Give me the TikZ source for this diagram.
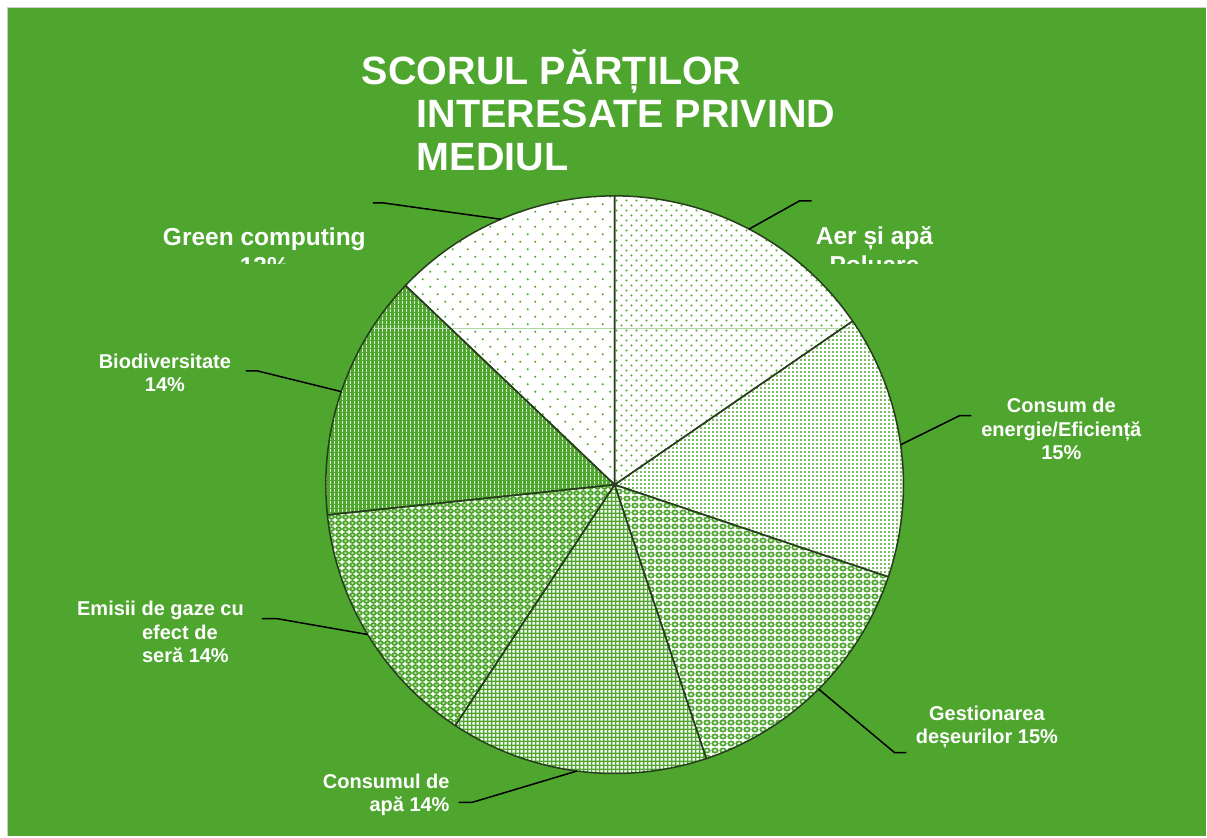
\documentclass[tikz,border=0pt]{standalone}
\usepackage{fontspec}
\setmainfont{Liberation Sans}
\usetikzlibrary{calc, patterns.meta}

\definecolor{leaf}{RGB}{78,166,46}
\definecolor{rim}{RGB}{38,62,28}
\definecolor{frame}{RGB}{205,205,205}

% fill patterns of the slices
\tikzdeclarepattern{name=airdots, type=uncolored,
  bounding box={(0pt,0pt) and (10pt,10pt)}, tile size={(10pt,10pt)},
  code={\fill (2.5pt,2.5pt) circle (1.2pt); \fill (7.5pt,7.5pt) circle (1.2pt);}}
\tikzdeclarepattern{name=greendots, type=uncolored,
  bounding box={(0pt,0pt) and (15pt,15pt)}, tile size={(15pt,15pt)},
  code={\fill (3.75pt,3.75pt) circle (1.2pt); \fill (11.25pt,11.25pt) circle (1.2pt);}}
\tikzdeclarepattern{name=energydots, type=uncolored,
  bounding box={(0pt,0pt) and (4pt,4pt)}, tile size={(4pt,4pt)},
  code={\fill (2pt,2pt) circle (1.2pt);}}
\tikzdeclarepattern{name=wasterings, type=uncolored,
  bounding box={(0pt,0pt) and (8pt,7pt)}, tile size={(8pt,7pt)},
  code={\draw[line width=1.7pt] (4pt,3.5pt) ellipse [x radius=2.7pt, y radius=2.1pt];}}
\tikzdeclarepattern{name=waterplaid, type=uncolored,
  bounding box={(0pt,0pt) and (8pt,8pt)}, tile size={(8pt,8pt)},
  code={\fill (0pt,0pt) rectangle (8pt,1.4pt); \fill (0pt,4pt) rectangle (8pt,5.4pt);
        \fill (0pt,0pt) rectangle (1.4pt,8pt); \fill (4pt,0pt) rectangle (5.4pt,8pt);}}
\tikzdeclarepattern{name=gasrings, type=uncolored,
  bounding box={(0pt,0pt) and (7pt,6pt)}, tile size={(7pt,6pt)},
  code={\draw[line width=2pt] (3.5pt,3pt) ellipse [x radius=2.3pt, y radius=1.8pt];}}
\tikzdeclarepattern{name=biostripes, type=uncolored,
  bounding box={(0pt,0pt) and (4pt,4pt)}, tile size={(4pt,4pt)},
  code={\fill (0pt,0pt) rectangle (3.2pt,4pt); \fill (3pt,1pt) rectangle (4pt,2.2pt);}}

\begin{document}
\begin{tikzpicture}[x=1pt, y=1pt,
  slice/.style={preaction={fill=white}},
  rimline/.style={draw=rim, line width=1.5pt},
  leader/.style={draw=black, line width=1.5pt},
  titletext/.style={text=white, font=\fontsize{39.5}{43}\selectfont\bfseries, align=left, inner sep=0pt},
  bigtext/.style={text=white, font=\fontsize{24.5}{29}\selectfont\bfseries, align=center, inner sep=0pt},
  smalltext/.style={text=white, font=\fontsize{20}{23.5}\selectfont\bfseries, align=center, inner sep=0pt}]

% background
\fill[white] (0,0) rectangle (1207,837);
\fill[leaf] (8,0) rectangle (1207,829);
\draw[frame, line width=1.5pt] (7.5,0) -- (7.5,829.5) -- (1207,829.5);
\useasboundingbox (0,0) rectangle (1207,837);

% pie
\coordinate (pie) at (615,352);
\foreach \from/\to/\pat/\shade in {90/34.5/airdots/leaf, 34.5/-18.6/energydots/leaf,
    -18.6/-71.5/wasterings/leaf, -71.5/-123.5/waterplaid/leaf,
    -123.5/-174/gasrings/leaf, -174/-223.6/biostripes/leaf, -223.6/-270/greendots/leaf}{
  \path[slice, pattern=\pat, pattern color=\shade] (pie) -- ++(\from:289)
    arc[start angle=\from, end angle=\to, radius=289] -- cycle;
}
\draw[leaf!45, line width=0.8pt] (372,508) -- (850,508);
\foreach \from/\to/\name in {90/34.5/air, 34.5/-18.6/energy, -18.6/-71.5/waste,
    -71.5/-123.5/water, -123.5/-174/gas, -174/-223.6/bio, -223.6/-270/green}{
  \draw[rimline] (pie) -- ++(\from:289)
    arc[start angle=\from, end angle=\to, radius=289] -- cycle;
  \coordinate (edge-\name) at ($(pie)+({(\from+\to)/2}:289)$);
}

% title
\node[titletext, anchor=base west] (title) at (362,666)
  {SCORUL PĂRȚILOR\\\hspace*{55pt}INTERESATE PRIVIND\\\hspace*{55pt}MEDIUL};

% labels
\begin{scope}
\clip (0,573) rectangle (1207,837);
\node[bigtext, anchor=base] (green-label) at (264.5,562) {Green computing\\13\%};
\node[bigtext, anchor=base] (air-label) at (875,563) {Aer și apă\\Poluare};
\end{scope}
\node[smalltext, anchor=base] (bio-label) at (165,445) {Biodiversitate\\14\%};
\node[smalltext, anchor=base] (energy-label) at (1062,377) {Consum de\\energie/Eficiență\\15\%};
\node[smalltext, anchor=base] (waste-label) at (987.5,93) {Gestionarea\\deșeurilor 15\%};
\node[smalltext, align=right, anchor=base east] (water-label) at (450,25) {Consumul de\\apă 14\%};
\node[smalltext, align=left, anchor=base west] (gas-label) at (77,174)
  {Emisii de gaze cu\\\hspace*{65pt}efect de\\\hspace*{65pt}seră 14\%};

% leader lines
\coordinate (kink-green) at (383,634);  \coordinate (end-green) at (373,634);
\coordinate (kink-air) at (800,636);    \coordinate (end-air) at (812,636);
\coordinate (kink-energy) at (960,421); \coordinate (end-energy) at (972,421);
\coordinate (kink-waste) at (895,84);   \coordinate (end-waste) at (907,84);
\coordinate (kink-water) at (472,34);   \coordinate (end-water) at (459,34);
\coordinate (kink-gas) at (277,218);    \coordinate (end-gas) at (262,218);
\coordinate (kink-bio) at (257,466);    \coordinate (end-bio) at (246,466);
\foreach \name in {green, air, energy, waste, water, gas, bio}
  \draw[leader] (edge-\name) -- (kink-\name) -- (end-\name);

\end{tikzpicture}
\end{document}
